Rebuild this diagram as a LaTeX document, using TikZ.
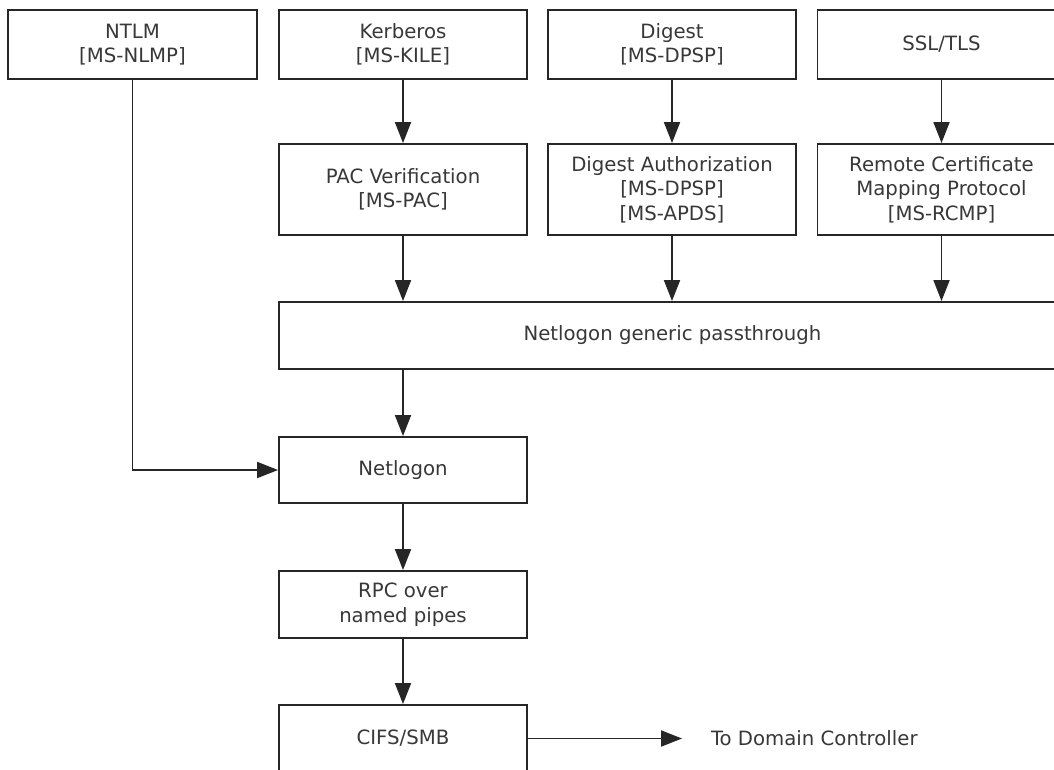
\documentclass[tikz,border=0pt]{standalone}
\usepackage{fontspec}
\setmainfont{DejaVu Sans}
\usetikzlibrary{arrows.meta}
\begin{document}
\begin{tikzpicture}[x=1pt,y=-1pt,
  box/.style={draw=black!85, line width=1.9pt, fill=white, align=center,
    inner sep=0pt, text=black!78, font=\fontsize{19.7}{24.5}\selectfont},
  colbox/.style={box, minimum width=248pt},
  toprow/.style={colbox, minimum height=69pt},
  midrow/.style={colbox, minimum height=91pt},
  lowrow/.style={colbox, minimum height=67pt},
  arr/.style={draw=black!85, line width=1.9pt, -{Triangle[length=21pt,width=16pt]}},
  lbl/.style={inner sep=0pt, outer xsep=29pt, text=black!78, font=\fontsize{19.7}{24.5}\selectfont}
]
\clip (0,0) rectangle (1054,770);
\fill[white] (0,0) rectangle (1054,770);

% authentication packages
\node[toprow, minimum width=249pt] (ntlm) at (132.5,44.5) {NTLM\\{[MS-NLMP]}};
\node[toprow] (ker) at (403,44.5) {Kerberos\\{[MS-KILE]}};
\node[toprow] (dig) at (672,44.5) {Digest\\{[MS-DPSP]}};
\node[toprow] (ssl) at (941.5,44.5) {SSL/TLS};

% second tier
\node[midrow] (pac) at (403,189.5) {PAC Verification\\{[MS-PAC]}};
\node[midrow] (dauth) at (672,189.5) {Digest Authorization\\{[MS-DPSP]}\\{[MS-APDS]}};
\node[midrow] (rcmp) at (941.5,189.5) {Remote Certificate\\Mapping Protocol\\{[MS-RCMP]}};

% passthrough and transport stack
\node[box, minimum width=787pt, minimum height=67pt] (pass) at (672.5,335.5) {Netlogon generic passthrough};
\node[lowrow, minimum height=66pt] (netlogon) at (403,470) {Netlogon};
\node[lowrow] (rpc) at (403,604.5) {RPC over\\named pipes};
\node[lowrow] (cifs) at (403,738.5) {CIFS/SMB};
\node[lbl, anchor=west] (dc) at (682,738.5) {To Domain Controller};

% connectors
\draw[arr] (ker) -- (pac);
\draw[arr] (dig) -- (dauth);
\draw[arr] (ssl) -- (rcmp);
\draw[arr] (pac.south) -- (pac.south |- pass.north);
\draw[arr] (dauth.south) -- (dauth.south |- pass.north);
\draw[arr] (rcmp.south) -- (rcmp.south |- pass.north);
\draw[arr] (netlogon.north |- pass.south) -- (netlogon.north);
\draw[arr] (ntlm.south) |- (netlogon.west);
\draw[arr] (netlogon) -- (rpc);
\draw[arr] (rpc) -- (cifs);
\draw[arr] (cifs.east) -- (dc.west);
\end{tikzpicture}
\end{document}
